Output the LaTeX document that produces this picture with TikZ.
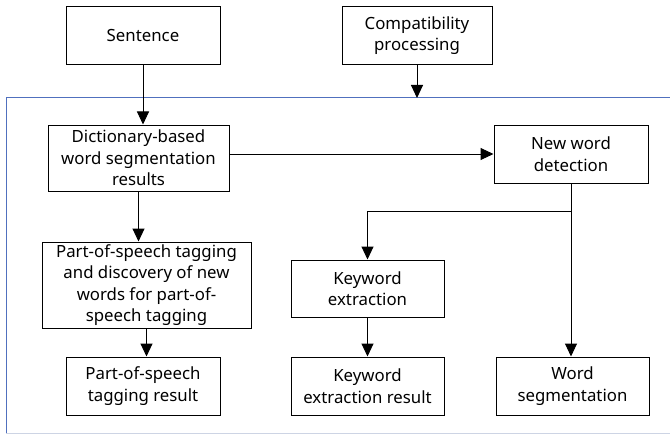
\documentclass[tikz,border=0pt]{standalone}
\usepackage{fontspec}
\setmainfont{Noto Sans}
\usetikzlibrary{arrows.meta}
\definecolor{frameblue}{RGB}{80,112,190}
\definecolor{framegray}{RGB}{205,212,228}
\begin{document}
\begin{tikzpicture}[x=1pt,y=-1pt,
  box/.style={draw=black,line width=1pt,fill=white,align=center,
    inner sep=1pt,font=\fontsize{16.8}{21.5}\selectfont},
  flow/.style={line width=1pt,-{Triangle[length=13pt,width=12pt]}},
  link/.style={line width=1pt}]
\useasboundingbox (0,0) rectangle (670,436);
\fill[white] (0,0) rectangle (670,436);

% processing frame
\draw[framegray,line width=1pt] (6,433) -- (670,433);
\draw[frameblue,line width=1pt] (6,433) -- (6,98) -- (670,98);
\coordinate (framein) at (417,98);

% boxes
\node[box,minimum width=154pt,minimum height=58pt] (sent) at (143,35.5) {Sentence};
\node[box,minimum width=150pt,minimum height=58pt] (comp) at (417,35.5) {Compatibility\\processing};
\node[box,minimum width=181pt,minimum height=66pt] (dict) at (138.5,158) {Dictionary-based\\word segmentation\\results};
\node[box,minimum width=154pt,minimum height=58pt] (nwd) at (571,154) {New word\\detection};
\node[box,minimum width=209pt,minimum height=86pt] (pos) at (146.5,285) {Part-of-speech tagging\\and discovery of new\\words for part-of-\\speech tagging};
\node[box,minimum width=153pt,minimum height=57pt] (kw) at (367.5,288.5) {Keyword\\extraction};
\node[box,minimum width=154pt,minimum height=58pt] (posr) at (143,386) {Part-of-speech\\tagging result};
\node[box,minimum width=153pt,minimum height=58pt] (kwr) at (367.5,386) {Keyword\\extraction result};
\node[box,minimum width=153pt,minimum height=58pt] (ws) at (572.5,386) {Word\\segmentation};

% connectors
\coordinate (split) at (571,211);
\draw[flow] (sent.south) -- (sent.south |- dict.north);
\draw[flow] (comp.south) -- (framein);
\draw[flow] (dict.east |- nwd.west) -- (nwd.west);
\draw[flow] (dict.south) -- (dict.south |- pos.north);
\draw[flow] (pos.south) -- (pos.south |- posr.north);
\draw[link] (nwd.south) -- (split);
\draw[flow] (split) -| (kw.north);
\draw[flow] (split) -- (split |- ws.north);
\draw[flow] (kw.south) -- (kwr.north);
\end{tikzpicture}
\end{document}
